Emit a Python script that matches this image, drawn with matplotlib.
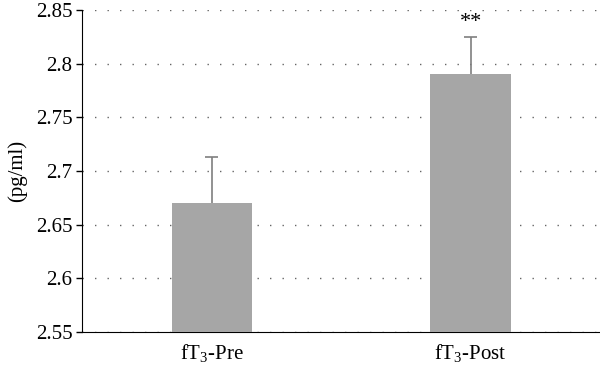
import matplotlib.pyplot as plt

grupos = ['fT$_3$-Pre', 'fT$_3$-Post']
medias = [2.670, 2.790]
errores = [0.043, 0.035]
marcas = ['', '**']

plt.rcParams['font.family'] = ['Liberation Serif', 'DejaVu Serif']
plt.rcParams['mathtext.fontset'] = 'custom'
plt.rcParams['mathtext.rm'] = 'Liberation Serif'
plt.rcParams['mathtext.it'] = 'Liberation Serif:italic'

fig = plt.figure(figsize=(6, 3.67), dpi=100)
ax = fig.add_axes([0.137, 0.095, 0.863, 0.878])

x = list(range(len(grupos)))
ax.bar(x, medias, width=0.31, color='#a6a6a6', zorder=3)
# solo la parte superior del error
tops = [m + e for m, e in zip(medias, errores)]
ax.vlines(x, medias, tops, color='#7f7f7f', linewidth=1.2, zorder=4)
ax.hlines(tops, [xi - 0.025 for xi in x], [xi + 0.025 for xi in x],
          color='#7f7f7f', linewidth=1.2, zorder=4)
for xi, t, tp in zip(x, marcas, tops):
    if t:
        ax.text(xi, tp + 0.004, t, ha='center', va='bottom', fontsize=16)

ax.set_xlim(-0.5, 1.5)
ax.set_ylim(2.55, 2.85)
ax.set_yticks([2.55, 2.6, 2.65, 2.7, 2.75, 2.8, 2.85])
ax.set_yticklabels(['2.55', '2.6', '2.65', '2.7', '2.75', '2.8', '2.85'])
ax.set_xticks(x)
ax.set_xticklabels(grupos)
ax.tick_params(axis='x', length=0, labelsize=15, pad=7)
ax.tick_params(axis='y', length=4, width=1, labelsize=15, direction='out', pad=3)
ax.yaxis.grid(True, linestyle=(0, (1, 8)), color='#666666', linewidth=1, zorder=0)
for s in ['top', 'right']:
    ax.spines[s].set_visible(False)
ax.set_ylabel('(pg/ml)', fontsize=15, labelpad=6)

fig.savefig('out.png', dpi=100)
